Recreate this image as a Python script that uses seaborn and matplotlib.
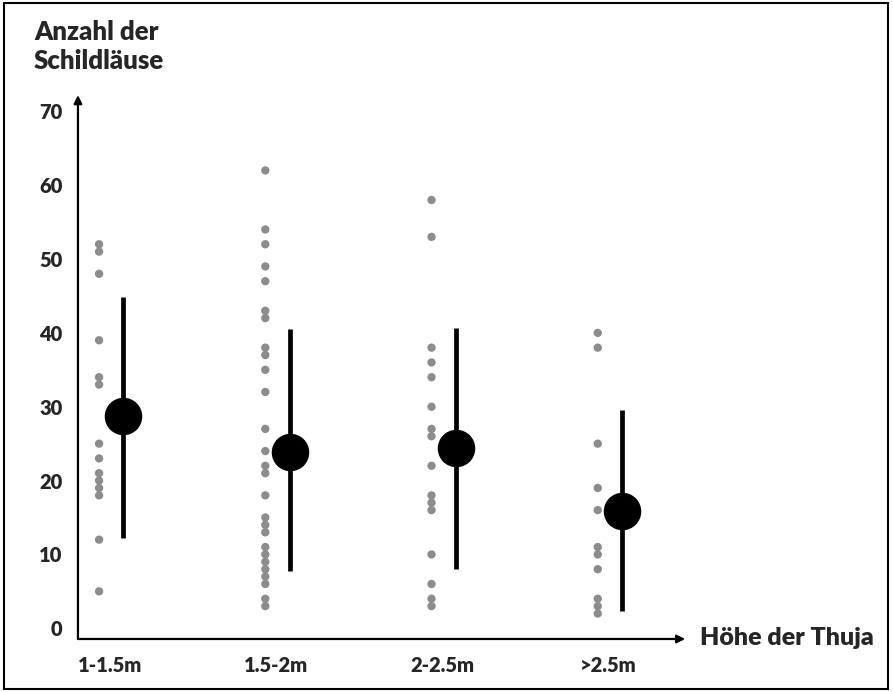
import seaborn as sns
sns.set_style("white")
import matplotlib.pyplot as plt
import pandas as pd
from matplotlib.patches import Rectangle

plt.rcParams['font.family'] = ['Lato', 'DejaVu Sans']
plt.rcParams['font.weight'] = 'heavy'

# data
groups = ['1-1.5m', '1.5-2m', '2-2.5m', '>2.5m']
counts_1 = [52, 51, 48, 39, 34, 33, 25, 23, 21, 20, 19, 18, 12, 5]
counts_2 = [62, 54, 52, 49, 47, 43, 42, 38, 37, 35, 32, 27, 24, 22, 21,
            18, 15, 14, 13, 11, 10, 9, 8, 7, 6, 4, 3]
counts_3 = [58, 53, 38, 36, 34, 30, 27, 26, 22, 18, 17, 16, 10, 6, 4, 3]
counts_4 = [40, 38, 25, 19, 16, 11, 10, 8, 4, 3, 2]
means = [28.7, 23.9, 24.4, 15.9]
err_low = [16.5, 16.2, 16.4, 13.6]
err_high = [16.2, 16.6, 16.2, 13.7]

rows = []
for i, vals in enumerate([counts_1, counts_2, counts_3, counts_4]):
    for v in vals:
        rows.append({'pos': i - 0.066, 'count': v})
df = pd.DataFrame(rows)

fig = plt.figure(figsize=(8.93, 6.92), dpi=100)
ax = fig.add_axes([0.0873, 0.0766, 0.680, 0.786])

sns.scatterplot(data=df, x='pos', y='count', ax=ax, color='#8c8c8c',
                s=36, edgecolor='none', zorder=2)

mean_pos = [i + 0.08 for i in range(len(groups))]
ax.errorbar(mean_pos, means, yerr=[err_low, err_high], fmt='o', color='black',
            ms=26, elinewidth=3.4, capsize=0, zorder=3)

ax.set_xlim(-0.193, 3.46)
ax.set_ylim(-1.45, 72.2)
ax.set_xticks(range(len(groups)))
ax.set_xticklabels(groups)
ax.set_yticks(range(0, 80, 10))
ax.tick_params(axis='both', length=0, labelsize=14.5)
ax.tick_params(axis='y', pad=11)
ax.tick_params(axis='x', pad=12)
ax.set_xlabel('')
ax.set_ylabel('')
for s in ax.spines.values():
    s.set_visible(False)

# axis arrows
arrow = dict(arrowstyle='-|>', color='black', lw=1.6, mutation_scale=12,
             shrinkA=0, shrinkB=0)
ax.annotate('', xy=(0, 1.0), xytext=(0, 0), xycoords='axes fraction', arrowprops=arrow)
ax.annotate('', xy=(1.0, 0), xytext=(0, 0), xycoords='axes fraction', arrowprops=arrow)

fig.text(700 / 893, 1 - 638 / 692, 'Höhe der Thuja', fontsize=18,
         va='center', ha='left')
fig.text(34 / 893, 1 - 20 / 692, 'Anzahl der\nSchildläuse', fontsize=18.5,
         va='top', ha='left', linespacing=1.25)

fig.patches.append(Rectangle((0.004, 0.005), 0.99, 0.99, transform=fig.transFigure,
                             fill=False, edgecolor='black', lw=1.5))

plt.savefig('out.png', dpi=100)
